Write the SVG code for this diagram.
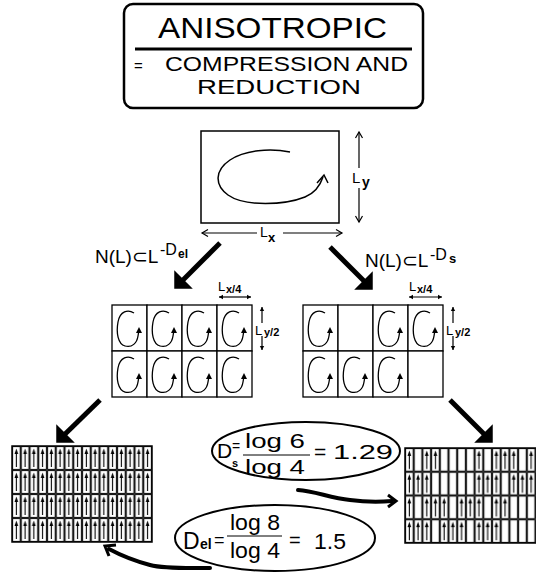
<svg xmlns="http://www.w3.org/2000/svg" width="536" height="573" viewBox="0 0 536 573">
<defs>
<style>
text{font-family:"Liberation Sans",Arial,"DejaVu Sans",sans-serif;fill:#000}
.s{stroke:#000;fill:none}
.th{stroke:#000;stroke-width:5;fill:none;stroke-linecap:butt}
.hd{fill:#000;stroke:#000;stroke-width:1.5;stroke-linejoin:miter}
.cell{fill:#fff;stroke:#000;stroke-width:1.3}
.sc{fill:none;stroke:#000;stroke-width:1}
</style>
<marker id="ah" viewBox="-8 -5 10 10" refX="0" refY="0" markerWidth="10" markerHeight="10" markerUnits="userSpaceOnUse" orient="auto-start-reverse">
<path d="M-6,-3.5 L0,0 L-6,3.5" fill="none" stroke="#000" stroke-width="1.2"/>
</marker>
<marker id="ahs" viewBox="-6 -4 8 8" refX="0" refY="0" markerWidth="8" markerHeight="8" markerUnits="userSpaceOnUse" orient="auto-start-reverse">
<path d="M-4,-2.2 L0,0 L-4,2.2 Z" fill="#000"/>
</marker>
<g id="G"><path class="s" stroke-width="1.3" d="M22,8 C16,4 8,6 6,17 C4,28 6,39 13,41 C20,43 25,38 26,31 L27,25"/><path d="M24,28 L27,22 L30,28 Z"/></g>
<g id="ua"><line x1="4.35" y1="21" x2="4.35" y2="6" stroke="#000" stroke-width="1.1"/><path d="M4.35,2.5 L2.5,8 L6.2,8 Z"/></g>
<pattern id="pL" patternUnits="userSpaceOnUse" x="12" y="446" width="8.75" height="24">
<rect x="0.6" y="0.6" width="7.55" height="22.8" class="sc"/>
<use href="#ua"/>
</pattern>
<pattern id="pR" patternUnits="userSpaceOnUse" x="405" y="448" width="8.7" height="23.75">
<rect x="0.6" y="0.6" width="7.5" height="22.55" class="sc"/>
</pattern>
<pattern id="pB" patternUnits="userSpaceOnUse" x="405" y="448" width="34.8" height="47.5">
<use href="#ua" x="0" y="0"/><use href="#ua" x="17.4" y="0"/><use href="#ua" x="26.1" y="0"/>
<use href="#ua" x="0" y="23.75"/><use href="#ua" x="8.7" y="23.75"/><use href="#ua" x="17.4" y="23.75"/>
</pattern>
</defs>
<rect width="536" height="573" fill="#fff"/>

<g id="title">
<rect x="124" y="4" width="299" height="104" rx="9" class="s" stroke-width="2.5"/>
<text x="158" y="38" font-size="30" textLength="229" lengthAdjust="spacingAndGlyphs">ANISOTROPIC</text>
<line x1="135" y1="49" x2="412" y2="49" stroke="#000" stroke-width="3"/>
<text x="134" y="71" font-size="15">=</text>
<text x="165" y="71" font-size="21" textLength="243" lengthAdjust="spacingAndGlyphs">COMPRESSION AND</text>
<text x="197" y="94" font-size="21" textLength="164" lengthAdjust="spacingAndGlyphs">REDUCTION</text>
</g>

<g id="top-panel">
<rect x="201" y="131" width="138" height="92" class="s" stroke-width="1.5"/>
<path class="s" stroke-width="1.5" d="M290,152 C270,148 245,150 230,160 C215,170 214,185 228,195 C245,207 285,205 305,197 C315,193 320,186 323,177"/>
<path class="s" stroke-width="1.5" d="M317,183 L324,175 L328,183"/>
<line x1="359" y1="168" x2="359" y2="132" class="s" stroke-width="1.2" marker-end="url(#ah)"/>
<line x1="359" y1="188" x2="359" y2="222" class="s" stroke-width="1.2" marker-end="url(#ah)"/>
<text font-size="15"><tspan x="352" y="183">L</tspan><tspan x="362" y="187" font-weight="bold" font-size="14">y</tspan></text>
<line x1="257" y1="233" x2="202" y2="233" class="s" stroke-width="1.2" marker-end="url(#ah)"/>
<line x1="283" y1="233" x2="342" y2="233" class="s" stroke-width="1.2" marker-end="url(#ah)"/>
<text font-size="14"><tspan x="260" y="237">L</tspan><tspan x="268" y="242" font-weight="bold" font-size="13">x</tspan></text>
</g>

<g id="formula-el">
<text font-size="19"><tspan x="95" y="263">N(L)⊂L</tspan><tspan x="160" y="255" font-size="16">-D</tspan><tspan x="178" y="258" font-size="12" font-weight="bold">el</tspan></text>
</g>
<g id="formula-s">
<text font-size="19"><tspan x="365" y="267">N(L)⊂L</tspan><tspan x="430" y="260" font-size="16">-D</tspan><tspan x="449" y="263" font-size="13" font-weight="bold">s</tspan></text>
</g>

<g id="grid-left">
<rect x="112" y="305" width="35" height="46" class="cell"/><rect x="147" y="305" width="35" height="46" class="cell"/><rect x="182" y="305" width="35" height="46" class="cell"/><rect x="217" y="305" width="35" height="46" class="cell"/>
<rect x="112" y="351" width="35" height="46" class="cell"/><rect x="147" y="351" width="35" height="46" class="cell"/><rect x="182" y="351" width="35" height="46" class="cell"/><rect x="217" y="351" width="35" height="46" class="cell"/>
<use href="#G" x="112" y="305"/><use href="#G" x="147" y="305"/><use href="#G" x="182" y="305"/><use href="#G" x="217" y="305"/>
<use href="#G" x="112" y="351"/><use href="#G" x="147" y="351"/><use href="#G" x="182" y="351"/><use href="#G" x="217" y="351"/>
<text font-size="13"><tspan x="218" y="291">L</tspan><tspan x="226" y="293" font-size="11" font-weight="bold">x/4</tspan></text>
<line x1="219" y1="297" x2="251" y2="297" stroke="#000" stroke-width="1.2" marker-start="url(#ahs)" marker-end="url(#ahs)"/>
<line x1="262" y1="323" x2="262" y2="307" stroke="#000" stroke-width="1.2" marker-end="url(#ahs)"/>
<line x1="262" y1="336" x2="262" y2="350" stroke="#000" stroke-width="1.2" marker-end="url(#ahs)"/>
<text font-size="13"><tspan x="255" y="335">L</tspan><tspan x="264" y="336" font-size="11" font-weight="bold">y/2</tspan></text>
</g>

<g id="grid-right">
<rect x="303" y="305" width="35" height="46" class="cell"/><rect x="338" y="305" width="35" height="46" class="cell"/><rect x="373" y="305" width="35" height="46" class="cell"/><rect x="408" y="305" width="35" height="46" class="cell"/>
<rect x="303" y="351" width="35" height="46" class="cell"/><rect x="338" y="351" width="35" height="46" class="cell"/><rect x="373" y="351" width="35" height="46" class="cell"/><rect x="408" y="351" width="35" height="46" class="cell"/>
<use href="#G" x="303" y="305"/><use href="#G" x="373" y="305"/><use href="#G" x="408" y="305"/>
<use href="#G" x="303" y="351"/><use href="#G" x="338" y="351"/><use href="#G" x="373" y="351"/>
<text font-size="13"><tspan x="409" y="291">L</tspan><tspan x="417" y="293" font-size="11" font-weight="bold">x/4</tspan></text>
<line x1="409" y1="297" x2="442" y2="297" stroke="#000" stroke-width="1.2" marker-start="url(#ahs)" marker-end="url(#ahs)"/>
<line x1="453" y1="323" x2="453" y2="307" stroke="#000" stroke-width="1.2" marker-end="url(#ahs)"/>
<line x1="453" y1="336" x2="453" y2="350" stroke="#000" stroke-width="1.2" marker-end="url(#ahs)"/>
<text font-size="13"><tspan x="446" y="335">L</tspan><tspan x="455" y="336" font-size="11" font-weight="bold">y/2</tspan></text>
</g>

<g id="grid-bottom-left">
<rect x="12" y="446" width="140" height="96" fill="url(#pL)" stroke="#000" stroke-width="1.5"/>
</g>

<g id="grid-bottom-right">
<rect x="405" y="448" width="139.2" height="95" fill="url(#pR)" stroke="#000" stroke-width="1.5"/>
<rect x="405" y="448" width="34.8" height="47.5" fill="url(#pB)"/>
<rect x="474.6" y="448" width="34.8" height="47.5" fill="url(#pB)"/>
<rect x="509.4" y="448" width="34.8" height="47.5" fill="url(#pB)"/>
<rect x="405" y="495.5" width="34.8" height="47.5" fill="url(#pB)"/>
<rect x="439.8" y="495.5" width="34.8" height="47.5" fill="url(#pB)"/>
<rect x="474.6" y="495.5" width="34.8" height="47.5" fill="url(#pB)"/>
</g>

<g id="eq-ds">
<ellipse cx="306" cy="451" rx="94" ry="29" class="s" stroke-width="2"/>
<text x="217" y="458" font-size="21">D</text>
<text x="232" y="451" font-size="14">=</text>
<text x="232" y="467" font-size="11" font-weight="bold">s</text>
<text x="245" y="448" font-size="21" textLength="60" lengthAdjust="spacingAndGlyphs">log 6</text>
<line x1="243" y1="455" x2="310" y2="455" stroke="#000" stroke-width="1"/>
<text x="245" y="474" font-size="21" textLength="60" lengthAdjust="spacingAndGlyphs">log 4</text>
<text x="314" y="459" font-size="21">=</text>
<text x="333" y="459" font-size="21" textLength="60" lengthAdjust="spacingAndGlyphs">1.29</text>
</g>

<g id="eq-del">
<ellipse cx="275" cy="538" rx="100" ry="33" class="s" stroke-width="2"/>
<text font-size="23"><tspan x="183" y="549">D</tspan><tspan x="200" y="549" font-size="14" font-weight="bold">el</tspan><tspan x="214" y="546" font-size="18">=</tspan></text>
<text x="230" y="530" font-size="22" textLength="50" lengthAdjust="spacingAndGlyphs">log 8</text>
<line x1="227" y1="536" x2="282" y2="536" stroke="#000" stroke-width="1"/>
<text x="230" y="558" font-size="22" textLength="50" lengthAdjust="spacingAndGlyphs">log 4</text>
<text x="289" y="547" font-size="20">=</text>
<text x="314" y="549" font-size="22" textLength="32" lengthAdjust="spacingAndGlyphs">1.5</text>
</g>

<g id="connectors">
<line x1="220" y1="243" x2="178.5" y2="284.5" class="th"/>
<path d="M175,288 L191,288 L175,272 Z" class="hd"/>
<line x1="330" y1="247" x2="368.5" y2="285.5" class="th"/>
<path d="M372,289 L356,289 L372,273 Z" class="hd"/>
<line x1="100" y1="400" x2="60.5" y2="438.5" class="th"/>
<path d="M57,442 L73,442 L57,426 Z" class="hd"/>
<line x1="450" y1="400" x2="488.5" y2="438.5" class="th"/>
<path d="M492,442 L476,442 L492,426 Z" class="hd"/>
<path d="M298,490 C315,491 330,498 350,500 C365,502 380,502 392,501" fill="none" stroke="#000" stroke-width="4" stroke-linecap="round"/>
<path d="M388,495 L396,501 L388,507" fill="none" stroke="#000" stroke-width="3"/>
<path d="M210,568 C190,568 165,569 150,565 C135,561 122,556 109,549" fill="none" stroke="#000" stroke-width="4" stroke-linecap="round"/>
<path d="M116,545 L105,546 L109,556" fill="none" stroke="#000" stroke-width="3"/>
</g>
</svg>
